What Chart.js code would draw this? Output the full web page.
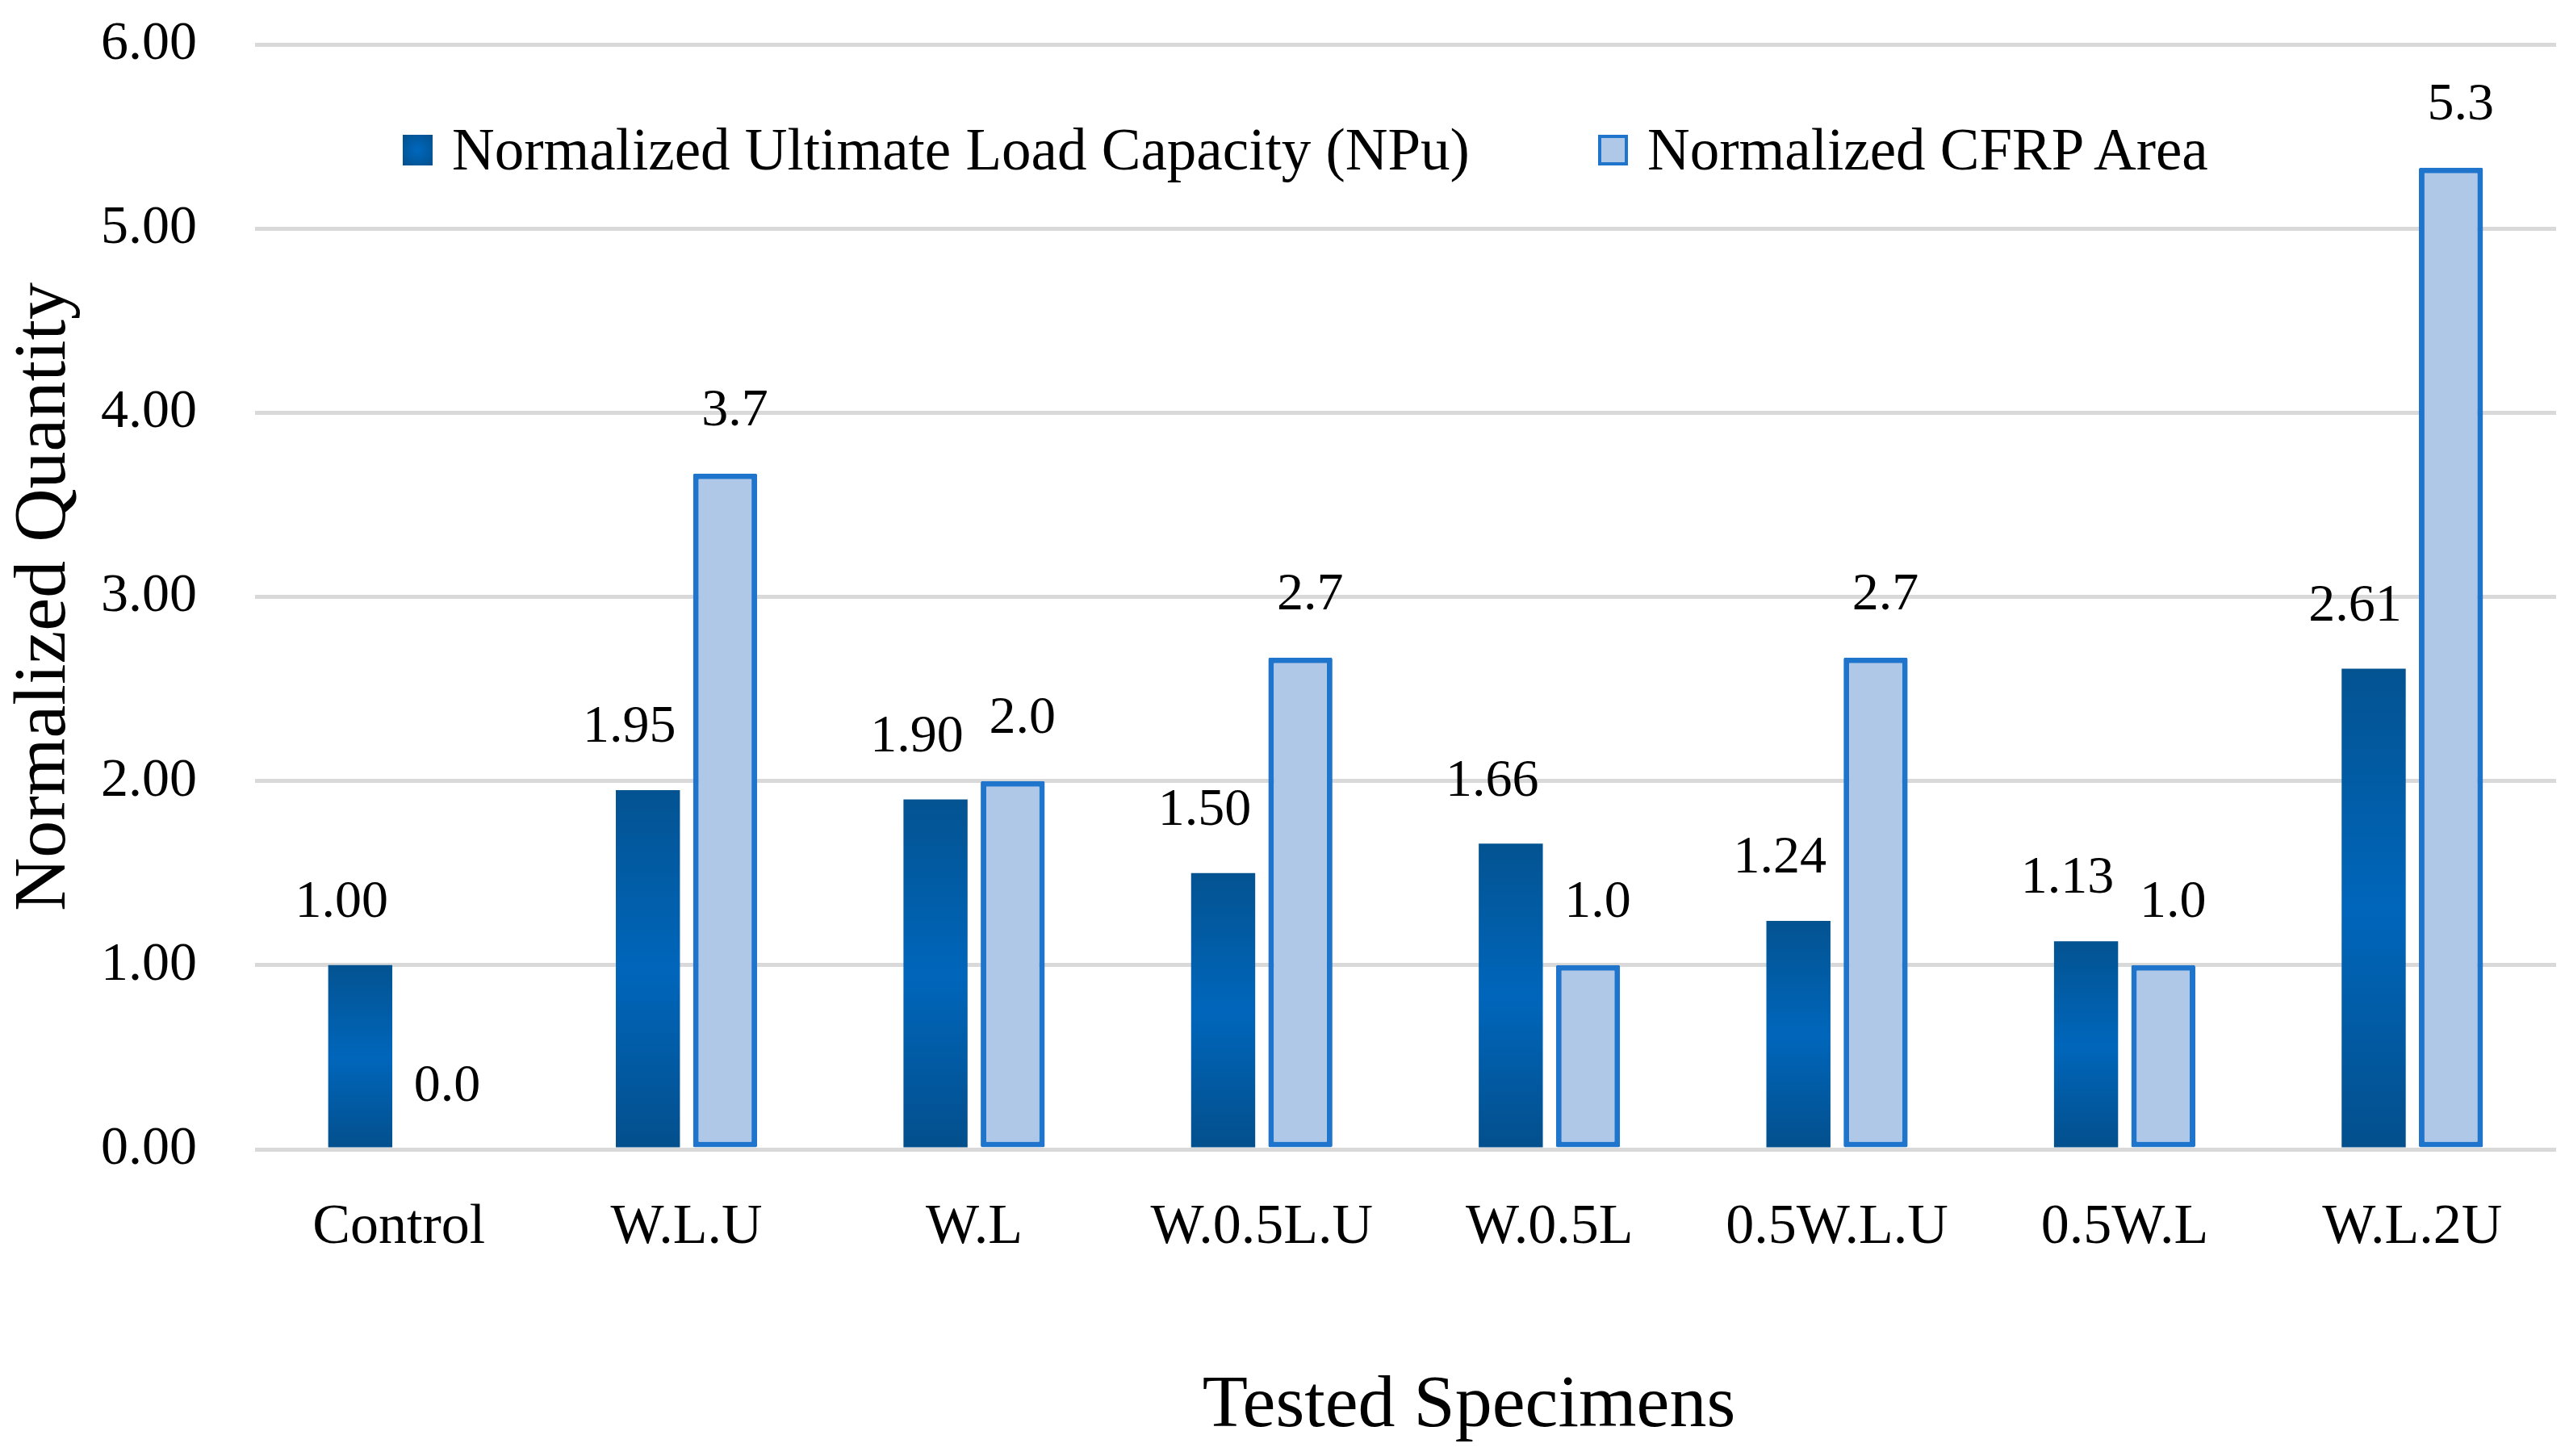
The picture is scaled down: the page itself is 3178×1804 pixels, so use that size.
<!DOCTYPE html>
<html>
<head>
<meta charset="utf-8">
<script src="https://cdn.jsdelivr.net/npm/chart.js@4.4.0/dist/chart.umd.min.js"></script>
<style>
  html, body { margin: 0; padding: 0; background: #fff; }
  #wrap { position: relative; width: 3178px; height: 1804px; }
  .txt { position: absolute; font-family: 'Liberation Serif', serif; color: #000; white-space: nowrap; line-height: 1; }
  .legend-item { display: flex; align-items: center; font-size: 73px; }
  .swatch { width: 37px; height: 38px; margin-right: 24px; box-sizing: border-box; }
  #sw0 { background: radial-gradient(circle, #0068BF 0%, #02579A 70%, #034F8C 100%); }
  #sw1 { background: #AFC8E8; border: 4px solid #1F74CC; }
  #xtitle { font-size: 92px; left: 1820px; top: 1690px; transform: translateX(-50%); }
</style>
</head>
<body>
<div id="wrap">
  <canvas id="chart"></canvas>
  <div class="txt legend-item" id="leg0" style="left:499px; top:149px;"><div class="swatch" id="sw0"></div><span></span></div>
  <div class="txt legend-item" id="leg1" style="left:1980px; top:149px;"><div class="swatch" id="sw1"></div><span></span></div>
  <div class="txt" id="xtitle">Tested Specimens</div>
</div>
<script>
const categories = ['Control', 'W.L.U', 'W.L', 'W.0.5L.U', 'W.0.5L', '0.5W.L.U', '0.5W.L', 'W.L.2U'];
const seriesNames = ['Normalized Ultimate Load Capacity (NPu)', 'Normalized CFRP Area'];
const loadCapacity = [1.00, 1.95, 1.90, 1.50, 1.66, 1.24, 1.13, 2.61];
const cfrpArea = [0.0, 3.67, 2.0, 2.67, 1.0, 2.67, 1.0, 5.33];
const yTicks = [0, 1, 2, 3, 4, 5, 6];

const FONT = "'Liberation Serif', serif";

document.querySelector('#leg0 span').textContent = seriesNames[0];
document.querySelector('#leg1 span').textContent = seriesNames[1];

// dark bars: darker at the ends, brighter in the middle
function darkGradient(ctx) {
    const chart = ctx.chart;
    const y = chart.scales.y;
    if (!y || ctx.type !== 'data') return '#0062B0';
    const top = y.getPixelForValue(ctx.raw);
    const bottom = y.getPixelForValue(0);
    if (!isFinite(top) || !isFinite(bottom) || top === bottom) return '#0062B0';
    const g = chart.ctx.createLinearGradient(0, top, 0, bottom);
    g.addColorStop(0, '#035391');
    g.addColorStop(0.5, '#0066BB');
    g.addColorStop(1, '#034F8C');
    return g;
}

const valueLabels = {
    id: 'valueLabels',
    afterDatasetsDraw(chart) {
        const c = chart.ctx;
        const digits = [2, 1];
        const shift = [-23, 12];
        c.save();
        c.font = '66px ' + FONT;
        c.fillStyle = '#000';
        c.textAlign = 'center';
        c.textBaseline = 'middle';
        chart.data.datasets.forEach((ds, i) => {
            chart.getDatasetMeta(i).data.forEach((bar, j) => {
                c.fillText(ds.data[j].toFixed(digits[i]), bar.x + shift[i], bar.y - 77);
            });
        });
        c.restore();
    }
};

new Chart(document.getElementById('chart'), {
    type: 'bar',
    data: {
        labels: categories,
        datasets: [{
            label: seriesNames[0],
            data: loadCapacity,
            backgroundColor: darkGradient,
            borderWidth: 0,
            categoryPercentage: 0.537,
            barPercentage: 0.83
        }, {
            label: seriesNames[1],
            data: cfrpArea,
            backgroundColor: '#AFC8E8',
            borderColor: '#1F74CC',
            borderWidth: 7,
            borderRadius: 2,
            borderSkipped: false,
            categoryPercentage: 0.537,
            barPercentage: 0.83
        }]
    },
    options: {
        responsive: true,
        maintainAspectRatio: false,
        devicePixelRatio: 1,
        animation: false,
        events: [],
        layout: { padding: { top: 55, right: 11, bottom: 0, left: 0 } },
        plugins: {
            legend: { display: false },
            tooltip: { enabled: false }
        },
        scales: {
            x: {
                grid: { display: false },
                border: { display: false },
                ticks: { color: '#000', font: { family: FONT, size: 70 }, padding: 48 },
                afterFit: scale => { scale.height = 380; }
            },
            y: {
                min: 0,
                max: 6,
                afterBuildTicks: scale => { scale.ticks = yTicks.map(v => ({ value: v })); },
                grid: { color: '#D9D9D9', lineWidth: 5, drawTicks: false },
                border: { display: false },
                ticks: {
                    color: '#000',
                    font: { family: FONT, size: 68 },
                    padding: 72,
                    callback: v => Number(v).toFixed(2)
                },
                title: {
                    display: true,
                    text: 'Normalized Quantity',
                    color: '#000',
                    font: { family: FONT, size: 92, lineHeight: 1 },
                    padding: { top: 10, bottom: 0 }
                },
                afterFit: scale => {
                    scale.width = 316;
                    // tick padding would otherwise push the plot top down
                    scale.paddingTop = 0;
                    scale.paddingBottom = 0;
                }
            }
        }
    },
    plugins: [valueLabels]
});
</script>
</body>
</html>
